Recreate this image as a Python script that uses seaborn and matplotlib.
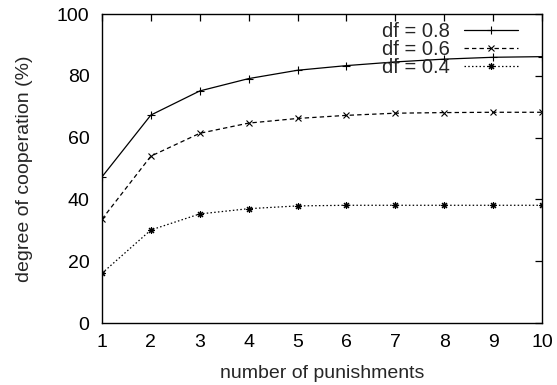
import matplotlib
matplotlib.use("Agg")
import matplotlib.pyplot as plt
import seaborn as sns
import pandas as pd

punishments = [1, 2, 3, 4, 5, 6, 7, 8, 9, 10]
coop_df08 = [47.3, 67.3, 75.1, 79.1, 81.8, 83.3, 84.5, 85.4, 86.0, 86.2]
coop_df06 = [33.6, 54.0, 61.4, 64.7, 66.2, 67.2, 67.9, 68.1, 68.2, 68.2]
coop_df04 = [16.1, 30.1, 35.3, 37.0, 37.9, 38.1, 38.1, 38.1, 38.1, 38.1]
series_labels = ["df = 0.8", "df = 0.6", "df = 0.4"]

sns.set_theme(style="white")
plt.rcParams["font.family"] = ["Liberation Sans", "DejaVu Sans"]

fig = plt.figure(figsize=(5.57, 3.85), dpi=100)
ax = fig.add_axes([0.1831, 0.161, 0.973 - 0.1831, 0.9636 - 0.161])

asterisk = (8, 2, 0)
styles = [
    dict(marker="+", linestyle="-", ms=5.5, mew=0.8),
    dict(marker="x", linestyle=(0, (3.5, 2.5)), ms=4.5, mew=0.8),
    dict(marker=asterisk, linestyle=(0, (1.2, 1.8)), ms=5, mew=0.8),
]

for vals, lab, st in zip([coop_df08, coop_df06, coop_df04], series_labels, styles):
    df = pd.DataFrame({"x": punishments, "y": vals})
    sns.lineplot(data=df, x="x", y="y", ax=ax, color="black", lw=0.9,
                 label=lab, markeredgecolor="black", markerfacecolor="black",
                 **st)

ax.set_xlim(1, 10)
ax.set_ylim(0, 100)
ax.set_xticks(punishments)
ax.set_yticks([0, 20, 40, 60, 80, 100])
ax.set_xlabel("number of punishments", fontsize=14, labelpad=10)
ax.set_ylabel("degree of cooperation (%)", fontsize=14, labelpad=17)
ax.tick_params(direction="in", length=5, width=0.9, top=True, right=True,
               labelsize=14, colors="black")
ax.tick_params(axis="y", pad=9)
ax.tick_params(axis="x", pad=8)
for s in ax.spines.values():
    s.set_visible(True)
    s.set_color("black")
    s.set_linewidth(1.0)
ax.grid(False)

leg = ax.legend(loc="upper right", bbox_to_anchor=(0.945, 0.973), frameon=False,
                markerfirst=False, fontsize=14.5, handlelength=2.65,
                handletextpad=0.7, labelspacing=-0.05, borderaxespad=0.0,
                borderpad=0.0)

fig.savefig("out.png", dpi=100)
